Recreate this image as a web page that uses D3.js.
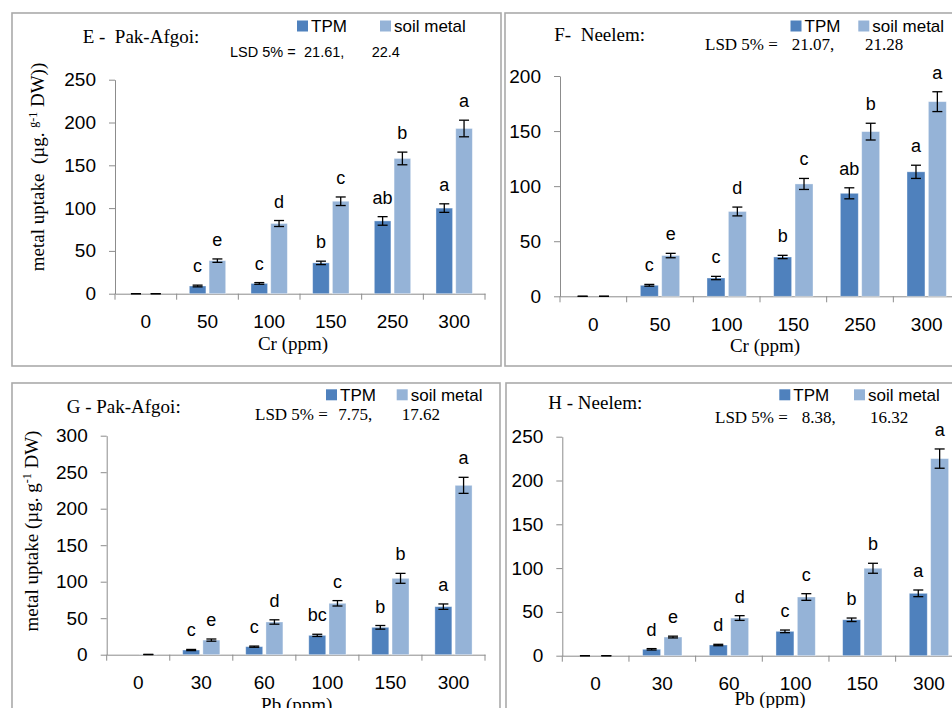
<!DOCTYPE html>
<html>
<head>
<meta charset="utf-8">
<script src="https://cdn.jsdelivr.net/npm/d3@7"></script>
<style>
  body { margin: 0; background: #fff; }
  svg text { white-space: pre; }
</style>
</head>
<body>
<svg id="mainFrame"></svg>
<script>
// categories
const crLevels = ['0', '50', '100', '150', '250', '300'];
const pbLevels = ['0', '30', '60', '100', '150', '300'];

// E - Pak-Afgoi, Cr
const eTpm = [0, 9, 12, 36, 85, 100];
const eTpmErr = [0, 1, 1, 2, 5, 5];
const eSoil = [0, 38.6, 82, 108, 158, 193];
const eSoilErr = [0, 2, 3.5, 5, 7.4, 9.7];
const eTpmLetters = ['', 'c', 'c', 'b', 'ab', 'a'];
const eSoilLetters = ['', 'e', 'd', 'c', 'b', 'a'];
const eLsd = ['21.61,', '22.4'];

// F - Neelem, Cr
const fTpm = [0, 10, 16.6, 35.7, 93.5, 113];
const fTpmErr = [0, 0.8, 1.5, 1.5, 5, 6];
const fSoil = [0, 37, 77, 102, 149.5, 176.7];
const fSoilErr = [0, 2, 4, 5, 7.6, 9];
const fTpmLetters = ['', 'c', 'c', 'b', 'ab', 'a'];
const fSoilLetters = ['', 'e', 'd', 'c', 'b', 'a'];
const fLsd = ['21.07,', '21.28'];

// G - Pak-Afgoi, Pb
const gTpm = [0, 6.4, 11, 26.5, 37.5, 65.8];
const gTpmErr = [null, 0.8, 0.8, 1.5, 2.5, 3.7];
const gSoil = [0.3, 20, 44.8, 70.4, 104.6, 232];
const gSoilErr = [0, 1.5, 3, 3.7, 6.8, 11];
const gTpmLetters = ['', 'c', 'c', 'bc', 'b', 'a'];
const gSoilLetters = ['', 'e', 'd', 'c', 'b', 'a'];
const gLsd = ['7.75,', '17.62'];

// H - Neelem, Pb
const hTpm = [0, 7.3, 12.2, 27.8, 41, 71.2];
const hTpmErr = [0, 0.8, 0.8, 1.5, 2, 3.8];
const hSoil = [0, 21.3, 43, 67, 99.8, 225];
const hSoilErr = [0, 1, 2.7, 3.8, 5.7, 11];
const hTpmLetters = ['', 'd', 'd', 'c', 'b', 'a'];
const hSoilLetters = ['', 'e', 'd', 'c', 'b', 'a'];
const hLsd = ['8.38,', '16.32'];

const ticksE = [0, 50, 100, 150, 200, 250];
const ticksF = [0, 50, 100, 150, 200];
const ticksG = [0, 50, 100, 150, 200, 250, 300];
const ticksH = [0, 50, 100, 150, 200, 250];

const seriesNames = ['TPM', 'soil metal'];
const colors = { TPM: '#4f81bd', 'soil metal': '#95b3d7' };

const sans = '"Liberation Sans", Arial, sans-serif';
const serif = '"Liberation Serif", "Times New Roman", serif';

const svg = d3.select('#mainFrame')
    .attr('width', 952)
    .attr('height', 708);

svg.append('rect').attr('width', 952).attr('height', 708).attr('fill', '#fff');

const panels = [
    {
        levels: crLevels, tpm: eTpm, tpmErr: eTpmErr, soil: eSoil, soilErr: eSoilErr,
        tpmLetters: eTpmLetters, soilLetters: eSoilLetters, lsd: eLsd, ticks: ticksE,
        box: [12, 13, 489, 353], left: 115, right: 485, bottom: 293.7, top: 79.7,
        title: 'E -  Pak-Afgoi:', titlePos: [82.7, 43],
        lsdSans: true, lsdPos: [230, 56.7, 304, 371.7],
        legend: [297, 20.5, 380, 32.3],
        xTitle: 'Cr (ppm)', xTitlePos: [293, 350],
        yTitle: ['metal uptake  (µg. ', 'g-1', ' DW))'], yTitlePos: [44, 167]
    },
    {
        levels: crLevels, tpm: fTpm, tpmErr: fTpmErr, soil: fSoil, soilErr: fSoilErr,
        tpmLetters: fTpmLetters, soilLetters: fSoilLetters, lsd: fLsd, ticks: ticksF,
        box: [505, 13, 500, 353], left: 560, right: 960, bottom: 296.3, top: 76,
        title: 'F-  Neelem:', titlePos: [554.3, 40.7],
        lsdSans: false, lsdPos: [705, 50, 791.7, 865],
        legend: [790.5, 20.5, 858.3, 32],
        xTitle: 'Cr (ppm)', xTitlePos: [765, 351.7]
    },
    {
        levels: pbLevels, tpm: gTpm, tpmErr: gTpmErr, soil: gSoil, soilErr: gSoilErr,
        tpmLetters: gTpmLetters, soilLetters: gSoilLetters, lsd: gLsd, ticks: ticksG,
        box: [12, 383, 488, 400], left: 106.7, right: 485, bottom: 654.7, top: 435.7,
        title: 'G - Pak-Afgoi:', titlePos: [66.7, 413.3],
        lsdSans: false, lsdPos: [255, 420, 338.3, 401.7],
        legend: [326, 389.3, 396.7, 401],
        xTitle: 'Pb (ppm)', xTitlePos: [296.7, 711],
        yTitle: ['metal uptake (µg. g', '-1', ' DW)'], yTitlePos: [37.5, 531]
    },
    {
        levels: pbLevels, tpm: hTpm, tpmErr: hTpmErr, soil: hSoil, soilErr: hSoilErr,
        tpmLetters: hTpmLetters, soilLetters: hSoilLetters, lsd: hLsd, ticks: ticksH,
        box: [506, 383, 500, 400], left: 562.3, right: 962.3, bottom: 655.7, top: 436.7,
        title: 'H - Neelem:', titlePos: [548.3, 409.3],
        lsdSans: false, lsdPos: [715, 423.3, 801.7, 870],
        legend: [779.3, 389.3, 854, 400.5],
        xTitle: 'Pb (ppm)', xTitlePos: [770, 705]
    }
];

const drawPanel = p => {
    const g = svg.append('g');

    // frame
    g.append('rect')
        .attr('x', p.box[0]).attr('y', p.box[1])
        .attr('width', p.box[2]).attr('height', p.box[3])
        .attr('fill', 'none')
        .attr('stroke', '#aaaaaa')
        .attr('stroke-width', 1.6);

    const yMax = p.ticks[p.ticks.length - 1];
    const y = d3.scaleLinear().domain([0, yMax]).range([p.bottom, p.top]);
    const x = d3.scaleBand().domain(p.levels).range([p.left, p.right]);
    const xs = d3.scaleBand().domain(seriesNames).range([0, x.bandwidth()])
        .paddingInner(0.16).paddingOuter(0.64);

    // y axis
    const yAxis = g.append('g')
        .attr('transform', `translate(${p.left},0)`)
        .call(d3.axisLeft(y).tickValues(p.ticks).tickSize(6).tickPadding(13).tickSizeOuter(0));
    yAxis.select('.domain').attr('stroke', '#8c8c8c');
    yAxis.selectAll('.tick line').attr('stroke', '#8c8c8c');
    yAxis.selectAll('.tick text')
        .attr('font-family', sans).attr('font-size', 19).attr('fill', '#000');

    // x axis: labels at band centres, ticks at band edges
    const xAxis = g.append('g')
        .attr('transform', `translate(0,${p.bottom})`)
        .call(d3.axisBottom(x).tickSize(0).tickPadding(21));
    xAxis.select('.domain').attr('stroke', '#8c8c8c');
    xAxis.selectAll('.tick text')
        .attr('font-family', sans).attr('font-size', 19).attr('fill', '#000');
    const edges = p.levels.map(l => x(l)).concat([x.range()[1]]);
    g.selectAll('line.edge')
        .data(edges)
        .join('line')
        .attr('class', 'edge')
        .attr('x1', d => d).attr('x2', d => d)
        .attr('y1', p.bottom).attr('y2', p.bottom + 6)
        .attr('stroke', '#8c8c8c');

    // bars
    const rows = [];
    p.levels.forEach((l, i) => {
        rows.push({ level: l, series: 'TPM', v: p.tpm[i], err: p.tpmErr[i], letter: p.tpmLetters[i] });
        rows.push({ level: l, series: 'soil metal', v: p.soil[i], err: p.soilErr[i], letter: p.soilLetters[i] });
    });
    const cx = d => x(d.level) + xs(d.series) + xs.bandwidth() / 2;

    g.selectAll('rect.bar')
        .data(rows.filter(d => d.v > 0))
        .join('rect')
        .attr('class', 'bar')
        .attr('x', d => x(d.level) + xs(d.series))
        .attr('width', xs.bandwidth())
        .attr('y', d => y(d.v))
        .attr('height', d => y(0) - y(d.v))
        .attr('fill', d => colors[d.series])
        .attr('stroke', 'rgba(255,255,255,0.45)')
        .attr('stroke-width', 0.8);

    // error bars
    const eb = g.selectAll('g.err')
        .data(rows.filter(d => d.err !== null))
        .join('g')
        .attr('class', 'err')
        .attr('stroke', '#000')
        .attr('stroke-width', 1.3);
    eb.append('line')
        .attr('x1', cx).attr('x2', cx)
        .attr('y1', d => y(d.v - d.err)).attr('y2', d => y(d.v + d.err));
    eb.append('line')
        .attr('x1', d => cx(d) - 5).attr('x2', d => cx(d) + 5)
        .attr('y1', d => y(d.v + d.err)).attr('y2', d => y(d.v + d.err));
    eb.append('line')
        .attr('x1', d => cx(d) - 5).attr('x2', d => cx(d) + 5)
        .attr('y1', d => y(d.v - d.err)).attr('y2', d => y(d.v - d.err));

    // significance letters
    g.selectAll('text.letter')
        .data(rows.filter(d => d.letter))
        .join('text')
        .attr('class', 'letter')
        .attr('x', cx)
        .attr('y', d => y(d.v + d.err) - 13)
        .attr('text-anchor', 'middle')
        .attr('font-family', sans)
        .attr('font-size', 18)
        .text(d => d.letter);

    // title
    g.append('text')
        .attr('x', p.titlePos[0]).attr('y', p.titlePos[1])
        .attr('font-family', serif).attr('font-size', 19)
        .text(p.title);

    // LSD line
    const lsdFont = p.lsdSans ? sans : serif;
    const lsdSize = p.lsdSans ? 14.5 : 17;
    [['LSD 5% =', p.lsdPos[0]], [p.lsd[0], p.lsdPos[2]], [p.lsd[1], p.lsdPos[3]]].forEach(t => {
        g.append('text')
            .attr('x', t[1]).attr('y', p.lsdPos[1])
            .attr('font-family', lsdFont).attr('font-size', lsdSize)
            .text(t[0]);
    });

    // legend
    const lg = [[seriesNames[0], p.legend[0]], [seriesNames[1], p.legend[2]]];
    lg.forEach(l => {
        g.append('rect')
            .attr('x', l[1]).attr('y', p.legend[1])
            .attr('width', 11).attr('height', 11)
            .attr('fill', colors[l[0]]);
        g.append('text')
            .attr('x', l[1] + 14).attr('y', p.legend[3])
            .attr('font-family', sans).attr('font-size', 17)
            .text(l[0]);
    });

    // axis titles
    g.append('text')
        .attr('x', p.xTitlePos[0]).attr('y', p.xTitlePos[1])
        .attr('text-anchor', 'middle')
        .attr('font-family', serif).attr('font-size', 19)
        .text(p.xTitle);

    if (p.yTitle) {
        const yt = g.append('text')
            .attr('transform', `translate(${p.yTitlePos[0]},${p.yTitlePos[1]}) rotate(-90)`)
            .attr('text-anchor', 'middle')
            .attr('font-family', serif).attr('font-size', 19);
        yt.append('tspan').text(p.yTitle[0]);
        yt.append('tspan').attr('dy', -7).attr('font-size', 12).text(p.yTitle[1]);
        yt.append('tspan').attr('dy', 7).text(p.yTitle[2]);
    }
};

panels.forEach(drawPanel);
</script>
</body>
</html>
